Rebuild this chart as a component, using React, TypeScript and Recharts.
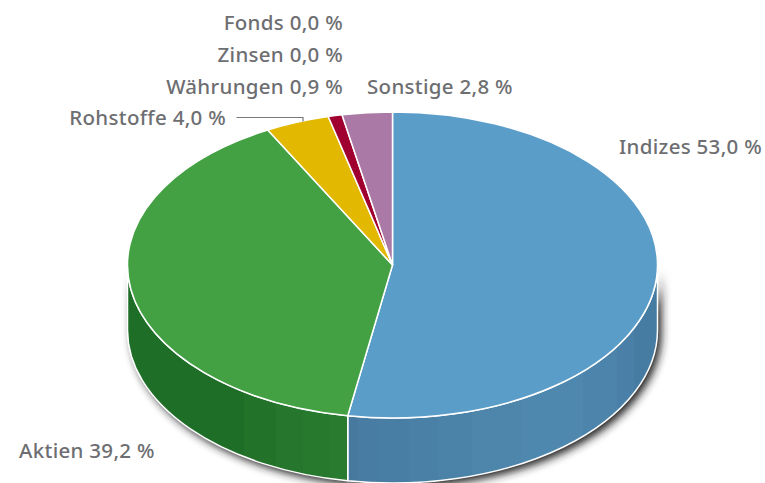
import React from "react";
import { PieChart, Pie } from "recharts";

const categories = ["Indizes", "Aktien", "Rohstoffe", "Währungen", "Zinsen", "Fonds", "Sonstige"];
const shares = [52.7, 39.5, 3.9, 0.85, 0.0, 0.0, 3.05];
const colors = ["#5b9dc9", "#43a143", "#e2b800", "#a00030", "#8a8a8a", "#8a8a8a", "#ab79a6"];
const valueLabels = ["53,0 %", "39,2 %", "4,0 %", "0,9 %", "0,0 %", "0,0 %", "2,8 %"];

const data = categories.map((name, i) => ({ name, value: shares[i], fill: colors[i], text: `${name} ${valueLabels[i]}` }));

const W = 765, H = 483, CX = 392.5, CY = 265, R = 265, SQUASH = 153 / 265, DEPTH = 65;
const FONT = "'Noto Sans', sans-serif";
const TEXT = "#6d6e71";

const labelLayout: Record<string, { x: number; y: number; anchor: "start" | "end" }> = {
  Indizes: { x: 619, y: 154, anchor: "start" },
  Aktien: { x: 19, y: 458, anchor: "start" },
  Rohstoffe: { x: 226, y: 125, anchor: "end" },
  "Währungen": { x: 343, y: 94, anchor: "end" },
  Zinsen: { x: 343, y: 62, anchor: "end" },
  Fonds: { x: 343, y: 30, anchor: "end" },
  Sonstige: { x: 367, y: 94, anchor: "start" },
};

const blueSteps: [number, string][] = [[358, "#47799f"], [379, "#487ca2"], [409, "#497ea4"], [438, "#4a80a6"], [472, "#4b82a8"], [522, "#4d85ab"], [583, "#4e88ae"], [617, "#4c84ab"], [634, "#4a80a7"], [657, "#467ca2"]];
const greenSteps: [number, string][] = [[244, "#1f6e28"], [276, "#22722a"], [303, "#26772d"], [330, "#27792e"], [347, "#297b2f"]];

function StepGradient({ id, from, steps }: { id: string; from: number; steps: [number, string][] }) {
  const to = steps[steps.length - 1][0];
  const stops: React.ReactElement[] = [];
  let prev = from;
  steps.forEach(([x, c], i) => {
    stops.push(<stop key={i + "a"} offset={(prev - from) / (to - from)} stopColor={c} />);
    stops.push(<stop key={i + "b"} offset={(x - from) / (to - from)} stopColor={c} />);
    prev = x;
  });
  return <linearGradient id={id} gradientUnits="userSpaceOnUse" x1={from} x2={to} y1={0} y2={0}>{stops}</linearGradient>;
}

const pt = (cx: number, cy: number, r: number, a: number, dy = 0) => {
  const rad = (a * Math.PI) / 180;
  return `${cx + r * Math.cos(rad)} ${cy - r * SQUASH * Math.sin(rad) + dy}`;
};

function topPath(p: any) {
  const { cx, cy, outerRadius: r, startAngle: s, endAngle: e } = p;
  const large = Math.abs(s - e) > 180 ? 1 : 0;
  return `M${cx} ${cy}L${pt(cx, cy, r, s)}A${r} ${r * SQUASH} 0 ${large} 1 ${pt(cx, cy, r, e)}Z`;
}

function wallPath(p: any) {
  const { cx, cy, outerRadius: r, startAngle: s, endAngle: e } = p;
  const a1 = Math.min(s, 0), a2 = Math.max(e, -180);
  if (a1 <= a2) return null;
  const ry = r * SQUASH;
  return `M${pt(cx, cy, r, a1)}A${r} ${ry} 0 0 1 ${pt(cx, cy, r, a2)}L${pt(cx, cy, r, a2, DEPTH)}A${r} ${ry} 0 0 0 ${pt(cx, cy, r, a1, DEPTH)}Z`;
}

const ShadowShape = (p: any) => {
  const w = wallPath(p);
  return w ? <path d={w} fill="#222" transform="translate(4 4)" filter="url(#blurShadow)" /> : <g />;
};

const WallShape = (p: any) => {
  const w = wallPath(p);
  if (!w) return <g />;
  const fill = p.name === "Indizes" ? "url(#wallBlue)" : "url(#wallGreen)";
  return <path d={w} fill={fill} stroke="#fff" strokeWidth={1.5} strokeLinejoin="round" />;
};

const TopShape = (p: any) => {
  if (!p.value) return <g />;
  return <path d={topPath(p)} fill={p.fill} stroke="#fff" strokeWidth={1.5} strokeLinejoin="round" />;
};

const renderLabel = (p: any) => {
  const l = labelLayout[p.name];
  if (!l) return null;
  const isRoh = p.name === "Rohstoffe";
  return (
    <g key={p.name}>
      <text x={l.x} y={l.y} textAnchor={l.anchor} fontFamily={FONT} fontSize={20.5} letterSpacing={0.3} fontWeight={500} fill={TEXT}>{p.payload?.text ?? p.text}</text>
      {isRoh && <path d="M236.5 117.5H303V121.5" fill="none" stroke="#77787b" strokeWidth={1.2} />}
    </g>
  );
};

export default function App() {
  const common = {
    data, dataKey: "value", nameKey: "name", cx: CX, cy: CY, outerRadius: R, innerRadius: 0,
    startAngle: 90, endAngle: -270, isAnimationActive: false, stroke: "none",
  } as any;
  return (
    <div style={{ position: "absolute", left: 0, top: 0, width: W, height: H }}>
      <PieChart width={W} height={H} margin={{ top: 0, right: 0, bottom: 0, left: 0 }}>
        <defs>
          <filter id="blurShadow" x="-10%" y="-10%" width="120%" height="130%">
            <feGaussianBlur stdDeviation="4" />
          </filter>
          <StepGradient id="wallBlue" from={347} steps={blueSteps} />
          <StepGradient id="wallGreen" from={128} steps={greenSteps} />
        </defs>
        <Pie {...common} shape={ShadowShape} label={false} labelLine={false} />
        <Pie {...common} shape={WallShape} label={false} labelLine={false} />
        <Pie {...common} shape={TopShape} label={renderLabel} labelLine={false} />
      </PieChart>
    </div>
  );
}
